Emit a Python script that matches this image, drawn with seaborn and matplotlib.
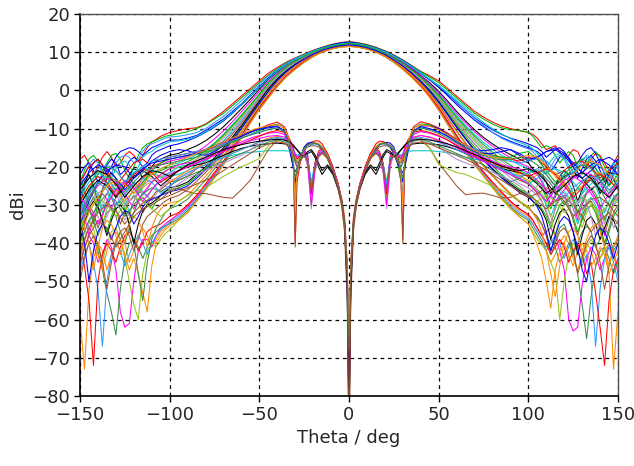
import numpy as np
import pandas as pd
import matplotlib
matplotlib.use("Agg")
import matplotlib.pyplot as plt
import seaborn as sns

# ---------------------------------------------------------------------------
# Sample angles (deg)
# co-polar traces: fine steps in the far side lobes, 5 deg steps elsewhere
theta_co = [
    -150, -147.5, -145, -142.5, -140, -137.5, -135, -132.5, -130, -127.5, -125,
    -122.5, -120, -117.5, -115, -112.5, -110, -107.5, -105, -102.5, -100,
    -95, -90, -85, -80, -75, -70, -65, -60, -55, -50, -45, -40, -35, -30, -25,
    -20, -15, -10, -5, 0, 5, 10, 15, 20, 25, 30, 35, 40, 45, 50, 55, 60, 65,
    70, 75, 80, 85, 90, 95,
    100, 102.5, 105, 107.5, 110, 112.5, 115, 117.5, 120, 122.5, 125, 127.5,
    130, 132.5, 135, 137.5, 140, 142.5, 145, 147.5, 150,
]
# cross-polar traces: fine steps around boresight null and side lobes
theta_x = [
    -150, -145, -140, -135, -130, -125, -120, -115, -110, -105, -100, -95, -90,
    -85, -80, -75, -70, -65, -60, -55, -50, -45,
    -40, -36, -33, -31, -30, -29, -27, -25, -23, -21, -19, -17, -15, -12, -9,
    -6, -4, -2.5, -1, 0, 1, 2.5, 4, 6, 9, 12, 15, 17, 19, 21, 23, 25, 27, 29,
    30, 31, 33, 36, 40,
    45, 50, 55, 60, 65, 70, 75, 80, 85, 90, 95, 100, 105, 110, 115, 120, 125,
    130, 135, 140, 145, 150,
]

# ---------------------------------------------------------------------------
# Co-polar gain (dBi)
co_01 = [-18, -17, -19, -22, -20, -17.5, -16, -17.5, -20, -19, -17, -16, -17, -18.5, -17, -15, -13.5, -12.8, -12, -11.5, -11,
         -10.5, -10, -9.8, -8.8, -7.2, -5.5, -3.5, -1.5, 0.5, 2.5, 4.5, 6, 7.4, 8.5, 9.5, 10.5, 11.3, 12, 12.5,
         12.8,
         12.5, 12, 11.3, 10.4, 9.3, 8, 6.5, 5, 3.8, 2.5, 0.5, -1.5, -3.5, -5.5, -7, -8.3, -9.3, -10, -10.5,
         -11, -11.5, -12.5, -14, -15.5, -15, -14.5, -16, -18, -17, -15.5, -16, -18.5, -20, -18, -16.5, -17, -19, -21, -19, -17]
co_02 = [-24, -21, -18, -17, -18.5, -21, -19, -17, -16.5, -18, -21, -23, -20, -17, -15, -14, -13.5, -13, -12.5, -12, -11.8,
         -11.3, -10.8, -10, -9, -7.5, -6, -4, -2, 0, 2, 4, 5.7, 7.2, 8.4, 9.4, 10.4, 11.2, 11.9, 12.4,
         12.7,
         12.4, 11.9, 11.2, 10.3, 9.2, 7.9, 6.4, 4.9, 3.5, 2, 0, -2, -4, -6, -7.5, -8.8, -9.8, -10.3, -10.5,
         -11, -12, -13.5, -15, -14.5, -15, -17, -19, -17.5, -16, -17, -20, -22, -19.5, -17, -16, -17.5, -20, -23, -21, -18]
co_03 = [-30, -25, -21, -19, -18, -19.5, -22, -20, -17.5, -16, -15.5, -15, -15.2, -16, -17, -16, -15, -14.5, -14, -13.5, -13,
         -13, -12.5, -11.8, -10.5, -9, -7.5, -5.5, -3.5, -1.2, 1, 3.2, 5, 6.8, 8.2, 9.3, 10.3, 11.2, 11.9, 12.4,
         12.6,
         12.3, 11.7, 11, 10, 8.9, 7.6, 6, 4.4, 2.7, 1, -1, -3.2, -5.2, -7.2, -8.8, -10.3, -11.5, -12.5, -13.2,
         -14, -14.5, -15, -16, -17.5, -16.5, -15.5, -15, -16, -18, -20, -19, -17, -15.5, -15, -16.5, -19, -22, -25, -22, -19]
co_04 = [-60, -73, -52, -44, -40, -42, -47, -43, -39, -37, -40, -45, -42, -38, -36, -38, -41, -39, -37, -36, -34.5,
         -32, -30, -27.5, -24.5, -21.5, -18.5, -15.5, -12, -8, -4.5, -1.5, 1.3, 3.8, 5.8, 7.5, 9, 10.1, 10.9, 11.4,
         11.6,
         11.4, 10.9, 10.1, 9, 7.5, 5.7, 3.6, 1.2, -1.5, -4.8, -8.5, -12, -15.5, -18.5, -21.5, -24.5, -27, -29.5, -31.5,
         -33, -35, -37, -39, -42, -45, -43, -40, -38, -40, -44, -47, -43, -40, -42, -46, -44, -41, -48, -73, -58]
co_05 = [-35, -30, -27, -25, -27, -31, -29, -26, -24, -25, -28, -32, -29, -26, -24, -22.5, -21.5, -21, -20.5, -20, -19.5,
         -19, -18, -16.8, -15.5, -13.8, -11.5, -9, -6.5, -3.8, -1, 1.8, 4, 6, 7.6, 8.9, 10, 10.9, 11.6, 12.1,
         12.3,
         12.1, 11.6, 10.8, 9.8, 8.6, 7.2, 5.5, 3.6, 1.5, -1, -3.8, -6.6, -9.2, -11.5, -13.6, -15.4, -17, -18.3, -19.5,
         -20.5, -21.5, -22, -23.5, -26, -28, -25.5, -23, -22.5, -24, -27, -30, -27, -24.5, -23.5, -25, -28, -32, -29, -26, -24]
co_06 = [-46, -41, -38, -40, -45, -43, -39, -41, -47, -58, -62, -61, -50, -42, -39, -39, -41, -38, -36, -35, -34,
         -32.5, -30.5, -28, -25, -22, -19, -15.5, -12, -8, -4.5, -1.5, 1.3, 3.9, 5.9, 7.6, 9.1, 10.2, 11, 11.5,
         11.7,
         11.5, 11, 10.2, 9.1, 7.6, 5.8, 3.7, 1.3, -1.4, -4.5, -8, -11.8, -15.2, -18.5, -21.5, -24, -26.5, -29, -31,
         -32.5, -34, -36, -38, -37, -36, -38, -42, -47, -60, -63, -62, -51, -44, -41, -43, -47, -44, -40, -42, -48]
co_07 = [-28, -24, -22, -25, -29, -26, -23, -21.5, -23, -27, -25, -22, -20.5, -21, -23, -22, -20, -18.5, -18, -17.5, -17,
         -16.5, -15.5, -14.5, -13.2, -11.5, -9.5, -7.2, -4.8, -2.3, 0.3, 2.8, 4.8, 6.6, 8, 9.2, 10.2, 11, 11.7, 12.2,
         12.4,
         12.2, 11.6, 10.9, 9.9, 8.7, 7.3, 5.7, 3.9, 2, -0.2, -2.8, -5.5, -8, -10.3, -12.3, -14, -15.5, -16.8, -18,
         -19, -20.5, -21.5, -22, -24, -27, -25, -22.5, -21, -22, -25, -29, -26, -23, -22, -24, -27, -25, -22, -23, -26]
co_08 = [-40, -34, -30, -32, -36, -33, -29, -28, -31, -35, -32, -29, -27.5, -29, -32, -30, -28, -26.5, -26, -25, -24,
         -23.5, -22.5, -20.5, -18.5, -16.5, -14, -11.5, -8.5, -5.5, -2.3, 0.8, 3.2, 5.3, 7, 8.5, 9.7, 10.7, 11.4, 11.9,
         12.1,
         11.9, 11.4, 10.6, 9.6, 8.3, 6.8, 5, 3, 0.8, -2, -5.2, -8.4, -11.3, -14, -16.5, -18.7, -20.5, -22, -23.5,
         -24.5, -25.5, -27, -29, -32, -35, -31, -28, -27.5, -30, -34, -38, -33, -30, -29, -31, -35, -40, -36, -32, -30]
co_09 = [-42, -37, -34, -36, -41, -45, -40, -37, -36, -39, -44, -50, -56, -60, -48, -42, -40, -41, -39, -37.5, -36.5,
         -34, -32, -29, -26, -23, -19.5, -16, -12.5, -8.5, -5, -2, 1, 3.5, 5.5, 7.3, 8.8, 10, 10.8, 11.3,
         11.5,
         11.3, 10.8, 10, 8.8, 7.3, 5.5, 3.4, 1, -1.8, -5.2, -9, -12.8, -16.3, -19.5, -22.5, -25.5, -28.5, -31, -33,
         -35, -37, -39, -40.5, -42, -45, -48, -60, -50, -43, -40, -42, -45, -41, -39, -41, -44, -42, -40, -43, -47]
co_10 = [-44, -39, -36, -38, -42, -47, -53, -58, -64, -52, -44, -40, -39, -41, -44, -41, -38, -37, -36, -35.5, -35,
         -33.5, -31.5, -28.5, -25.5, -22.5, -19.2, -15.8, -12.3, -8.4, -4.8, -1.8, 1.1, 3.6, 5.6, 7.4, 8.9, 10.1, 10.9, 11.4,
         11.6,
         11.4, 10.9, 10.1, 8.9, 7.4, 5.6, 3.5, 1.1, -1.7, -5, -8.8, -12.5, -16, -19.2, -22.2, -25.2, -28, -30.5, -32.5,
         -34, -36, -38, -40, -41, -39, -41, -45, -43, -40, -42, -48, -56, -65, -54, -46, -42, -41, -44, -48, -45]
co_11 = [-48, -43, -40, -45, -52, -67, -50, -43, -40, -42, -46, -43, -40, -38, -40, -43, -40, -38, -36.5, -35.5, -34.5,
         -33, -31, -28.5, -25.5, -22.5, -19, -15.5, -12, -8.2, -4.7, -1.7, 1.2, 3.7, 5.7, 7.5, 9, 10.1, 10.9, 11.4,
         11.6,
         11.4, 10.9, 10.1, 9, 7.5, 5.6, 3.5, 1.1, -1.6, -4.9, -8.6, -12.2, -15.8, -19, -22, -24.8, -27.5, -30, -32,
         -33.5, -35, -37, -39, -42, -40, -38, -40, -44, -41, -39, -42, -46, -43, -50, -67, -52, -44, -41, -45, -50]
co_12 = [-33, -29, -26, -28, -32, -30, -27, -25, -26.5, -30, -28, -25.5, -24, -25, -27.5, -26, -24, -23, -22.5, -22, -21.5,
         -21, -20, -18.5, -16.8, -14.8, -12.5, -10, -7.3, -4.5, -1.5, 1.5, 3.8, 5.8, 7.4, 8.8, 9.9, 10.9, 11.6, 12,
         12.2,
         12, 11.5, 10.8, 9.7, 8.5, 7, 5.2, 3.3, 1, -1.5, -4.4, -7.3, -10, -12.5, -14.8, -16.8, -18.6, -20.2, -21.5,
         -22.5, -23.5, -24, -25, -27.5, -30, -27, -25, -24.5, -26, -29, -33, -30, -27, -26, -28, -31, -35, -31, -28, -27]
co_13 = [-40, -46, -55, -72, -50, -43, -40, -42, -45, -41, -38, -37, -39, -42, -40, -37, -36, -35.5, -35, -34, -33,
         -32, -30, -27.5, -24.5, -21.5, -18.5, -15.2, -11.8, -8, -4.5, -1.5, 1.4, 3.9, 5.9, 7.6, 9.1, 10.2, 11, 11.5,
         11.7,
         11.5, 11, 10.2, 9.1, 7.6, 5.8, 3.7, 1.3, -1.4, -4.6, -8.2, -11.8, -15.3, -18.4, -21.3, -24, -26.6, -29, -31,
         -32.5, -34, -36, -38, -40, -43, -41, -39, -41, -45, -42, -40, -43, -48, -45, -53, -62, -72, -55, -47, -44]
co_14 = [-38, -33, -30, -28, -30, -34, -37, -33, -30, -29, -31, -35, -32, -29, -28, -29.5, -31, -29, -27.5, -26.5, -26,
         -25.5, -24.5, -22.5, -20.5, -18, -15.5, -12.5, -9.5, -6.3, -3, 0.3, 2.9, 5.1, 6.9, 8.4, 9.6, 10.6, 11.3, 11.8,
         12,
         11.8, 11.3, 10.5, 9.4, 8.1, 6.5, 4.6, 2.5, 0.2, -2.6, -5.8, -9, -12, -14.8, -17.4, -19.8, -22, -24, -25.8,
         -27, -28, -29.5, -31, -33, -36, -33, -30, -29, -30.5, -33, -37, -34, -31, -30, -32, -36, -41, -37, -33, -31]
co_15 = [-22, -20, -19, -21, -24, -22, -19.5, -18, -19, -22, -21, -18.5, -17.5, -18.5, -20, -19, -17, -16, -15.5, -15, -14.5,
         -14, -13.2, -12.2, -11, -9.6, -8, -6, -3.8, -1.5, 0.9, 3.2, 5.2, 6.9, 8.2, 9.3, 10.3, 11.1, 11.8, 12.3,
         12.5,
         12.3, 11.8, 11.1, 10.2, 9.1, 7.8, 6.3, 4.6, 2.8, 0.8, -1.4, -3.7, -5.8, -7.8, -9.5, -11, -12.3, -13.3, -14.2,
         -15, -15.5, -16, -17, -19, -21, -19.5, -17.5, -16.5, -17.5, -20, -23, -20.5, -18, -17, -18.5, -21, -24, -22, -19, -18]
co_16 = [-44, -39, -36, -38, -43, -47, -42, -38, -37, -39, -43, -47, -44, -48, -53, -58, -46, -40, -38, -36.5, -35.5,
         -34, -32, -29, -26, -22.8, -19.5, -16, -12.5, -8.5, -5, -2, 1, 3.6, 5.6, 7.4, 8.9, 10, 10.8, 11.3,
         11.5,
         11.3, 10.8, 10, 8.9, 7.4, 5.5, 3.4, 1, -1.8, -5.1, -8.8, -12.5, -16, -19.2, -22.3, -25.3, -28, -30.7, -33,
         -35, -37.5, -40.5, -44, -50, -57, -47, -42, -40, -43, -46, -42, -40, -42, -46, -44, -41, -43, -48, -45, -42]
co_17 = [-37, -33, -31, -34, -38, -35, -32, -31, -33, -37, -40, -36, -40, -48, -55, -45, -39, -36, -34, -32, -31,
         -30, -28.5, -26, -23.5, -20.5, -17.5, -14.5, -11, -7.5, -4, -0.8, 2, 4.5, 6.4, 8, 9.4, 10.4, 11.1, 11.6,
         11.8,
         11.6, 11.1, 10.3, 9.3, 7.9, 6.2, 4.2, 1.9, -0.7, -3.8, -7.2, -10.6, -13.8, -16.8, -19.6, -22.2, -24.6, -27, -29,
         -30.5, -32, -33.5, -35, -38, -42, -39, -36, -35, -38, -43, -40, -37, -35.5, -37, -41, -39, -36, -38, -42, -40]
co_18 = [-36, -31, -28, -26, -28, -32, -30, -27, -25.5, -27, -30, -28, -26, -25, -26.5, -28, -26, -24.5, -24, -23.2, -22.5,
         -22, -21, -19.5, -17.6, -15.6, -13.2, -10.6, -7.8, -4.9, -1.8, 1.2, 3.6, 5.6, 7.2, 8.7, 9.8, 10.8, 11.5, 12,
         12.2,
         12, 11.5, 10.7, 9.7, 8.4, 6.9, 5.1, 3.1, 0.9, -1.8, -4.8, -7.8, -10.6, -13.2, -15.6, -17.8, -19.8, -21.5, -23,
         -24, -25, -26, -27.5, -30, -33, -30, -27.5, -26.5, -28, -31, -35, -32, -29, -28, -30, -33, -37, -34, -30, -28]
co_19 = [-26, -22, -19.5, -18, -19, -22, -25, -22, -19, -17.5, -17, -17.5, -19, -18, -16, -14.5, -14, -13.5, -13, -12.5, -12.2,
         -12, -11.6, -11, -10, -8.4, -6.8, -4.8, -2.7, -0.5, 1.6, 3.7, 5.4, 7, 8.3, 9.3, 10.3, 11.1, 11.7, 12.1,
         12.3,
         12.1, 11.6, 10.9, 10, 8.9, 7.6, 6.1, 4.5, 2.9, 1.2, -0.8, -3, -5.2, -7.3, -9.2, -11, -12.5, -13.6, -14.5,
         -15.3, -16, -17.5, -19.5, -22, -20, -18, -17, -18, -20.5, -23, -21, -18.5, -17, -17.5, -20, -23.5, -27, -24, -20.5, -19]
co_20 = [-29, -33, -38, -33, -29, -27, -28.5, -31, -28, -25, -23.5, -24, -26, -25, -23, -21.5, -20.5, -20, -19.5, -19, -18.5,
         -18, -17.3, -16.2, -14.6, -12.7, -10.6, -8.2, -5.6, -3, -0.3, 2.3, 4.4, 6.3, 7.8, 9, 10.1, 10.9, 11.6, 12,
         12.2,
         12, 11.5, 10.8, 9.8, 8.6, 7.2, 5.6, 3.7, 1.7, -0.7, -3.3, -6, -8.5, -10.8, -12.8, -14.6, -16.2, -17.6, -19,
         -20, -21, -22, -24, -26.5, -30, -27.5, -25, -24, -25.5, -29, -34, -30, -27, -26, -28, -32, -38, -33, -29, -27]
co_21 = [-31, -27, -25, -26.5, -30, -35, -31, -27.5, -26, -27, -30, -33, -29, -27, -25.5, -24.5, -24, -23, -22, -21, -20.5,
         -20.2, -19.5, -18, -16.2, -14.3, -12, -9.5, -6.9, -4.1, -1.2, 1.7, 4, 6, 7.5, 8.8, 9.9, 10.8, 11.5, 11.9,
         12.1,
         11.9, 11.4, 10.6, 9.6, 8.3, 6.8, 5, 3, 0.7, -2, -4.9, -7.9, -10.6, -13.1, -15.4, -17.5, -19.3, -20.8, -22.2,
         -23.5, -25, -26, -27, -29, -33, -38, -33, -29.5, -28, -29, -32, -36, -32, -30, -31, -34, -37, -33, -30, -29]
co_22 = [-39, -35, -31, -29, -30.5, -34, -38, -34, -31, -30, -31.5, -35, -40, -35, -31.5, -30, -29.5, -28.5, -27.5, -26.5, -25.5,
         -25, -24, -22, -20, -17.6, -15, -12.2, -9.2, -6, -2.8, 0.4, 3, 5.2, 7, 8.5, 9.7, 10.7, 11.3, 11.8,
         12,
         11.8, 11.3, 10.5, 9.4, 8.1, 6.5, 4.6, 2.4, 0, -2.9, -6.2, -9.5, -12.6, -15.5, -18.1, -20.5, -22.6, -24.5, -26.2,
         -27.5, -29, -30, -31.5, -34, -39, -35, -32, -31, -33, -37, -43, -38, -34, -33, -35, -39, -36, -33, -34, -37]
co_23 = [-50, -44, -40, -38, -40, -45, -52, -45, -40, -37, -36, -38, -42, -39, -35, -33, -32, -31, -30, -29, -28.3,
         -27.5, -26, -23.8, -21.5, -19, -16.3, -13.3, -10.2, -6.9, -3.6, -0.4, 2.4, 4.7, 6.6, 8.2, 9.5, 10.5, 11.2, 11.7,
         11.9,
         11.7, 11.2, 10.4, 9.3, 7.9, 6.2, 4.2, 1.9, -0.7, -3.8, -7.2, -10.6, -13.9, -16.9, -19.7, -22.4, -24.9, -27.2, -29.2,
         -30.8, -32, -33, -35, -38, -43, -40, -37, -36, -38, -42, -48, -44, -40, -38, -40, -45, -52, -46, -41, -39]
co_24 = [-33, -36, -40, -47, -41, -36, -34, -35, -38, -43, -39, -35, -33, -34, -37, -41, -36, -33, -31, -30, -29.5,
         -29, -27.5, -25, -22.5, -19.8, -17, -14, -10.8, -7.4, -4, -0.7, 2.1, 4.5, 6.4, 8.1, 9.4, 10.4, 11.1, 11.6,
         11.8,
         11.6, 11.1, 10.3, 9.2, 7.8, 6, 4, 1.7, -1, -4, -7.4, -10.8, -14, -17, -19.8, -22.4, -24.8, -27, -29,
         -30.5, -32, -34, -37, -42, -48, -54, -46, -40, -37, -36, -38, -42, -39, -36, -35, -37, -41, -46, -41, -38]
co_25 = [-27, -32, -27, -23, -21, -22, -25, -23, -20.5, -19, -18.5, -19.5, -22, -20, -17.5, -16.5, -16, -15, -14.5, -14, -13.5,
         -13.2, -12.8, -12, -10.9, -9.4, -7.8, -5.8, -3.6, -1.4, 0.8, 3, 5, 6.7, 8.1, 9.2, 10.2, 11, 11.7, 12.2,
         12.4,
         12.2, 11.7, 11, 10.1, 9, 7.7, 6.2, 4.6, 3, 1.3, -0.6, -2.6, -4.6, -6.6, -8.4, -10, -11.4, -12.6, -13.6,
         -14.5, -15.3, -16.5, -18, -20, -18.5, -17, -16.5, -17.5, -19.5, -21.5, -20, -18, -17.5, -19, -22, -26, -23, -20.5, -19, -20.5]
co_26 = [-47, -40, -35, -32, -33, -36, -33, -30.5, -29.5, -31, -34, -32, -29, -27, -26.5, -27.5, -29, -27, -25.5, -24.5, -23.5,
         -23, -22, -20.2, -18.2, -16, -13.6, -11, -8.1, -5.1, -2, 1, 3.5, 5.5, 7.2, 8.6, 9.8, 10.7, 11.4, 11.9,
         12.1,
         11.9, 11.4, 10.6, 9.5, 8.2, 6.7, 4.9, 2.8, 0.5, -2.3, -5.4, -8.5, -11.4, -14, -16.5, -18.8, -20.9, -22.8, -24.4,
         -25.5, -26.5, -27.5, -29, -31.5, -35, -31, -28.5, -28, -30, -33, -30, -28, -29.5, -33, -38, -34, -31, -32, -36, -34]
co_27 = [-23, -26, -30, -35, -30, -26.5, -25, -26, -28, -26, -24, -23, -24.5, -27, -25, -23, -22, -21.5, -21, -20.5, -20,
         -19.5, -18.7, -17.4, -15.8, -13.9, -11.7, -9.2, -6.6, -3.8, -1, 1.9, 4.1, 6.1, 7.6, 8.9, 10, 10.9, 11.6, 12,
         12.2,
         12, 11.5, 10.7, 9.7, 8.5, 7, 5.3, 3.4, 1.2, -1.3, -4.1, -7, -9.6, -12, -14.2, -16.2, -18, -19.6, -21,
         -22, -23, -24, -25.5, -28, -31, -28, -25.5, -24.5, -25.5, -28, -32, -29, -26.5, -25.5, -27, -30, -34, -31, -28, -27]
co_28 = [-35, -40, -50, -42, -37, -35, -36, -39, -36, -33, -31.5, -32, -35, -33, -30.5, -29, -28.5, -28, -27.5, -27, -26.5,
         -26, -25, -23, -20.8, -18.4, -15.8, -12.9, -9.9, -6.6, -3.4, -0.2, 2.6, 4.9, 6.7, 8.2, 9.5, 10.5, 11.2, 11.7,
         11.9,
         11.7, 11.2, 10.4, 9.4, 8, 6.4, 4.5, 2.3, -0.2, -3.1, -6.4, -9.7, -12.8, -15.7, -18.3, -20.7, -22.9, -24.9, -26.7,
         -28, -29, -30.5, -33, -37, -42, -38, -34.5, -33, -34, -37, -41, -47, -50, -43, -38, -36, -37, -40, -44, -40]

# ---------------------------------------------------------------------------
# Cross-polar gain (dBi)
x_01 = [-24, -20, -18, -21, -25, -22, -19, -18, -20, -19, -17.5, -17, -16.5, -16, -15.5, -15, -14, -13, -12, -11, -10, -9,
        -8.3, -9.5, -13, -20, -40, -24, -18.5, -16, -14.3, -13.6, -13.2, -13.2, -14, -16.5, -20, -24.5, -28.5, -33, -45,
        -88,
        -45, -33, -28.5, -24.5, -20, -16.5, -14, -13.3, -13.4, -13.8, -14.6, -16.2, -18.6, -24, -39, -21, -13.5, -9.5, -8.2,
        -8.8, -9.8, -11.2, -12.8, -14.2, -15.5, -16.3, -17, -17.5, -18, -18.5, -17.5, -18, -20, -22, -21, -19, -18.5, -20, -23, -21, -19]
x_02 = [-30, -26, -22, -20, -21, -24, -27, -24, -21, -19, -18, -17.5, -17, -16.5, -16, -15.5, -14.5, -13.5, -12.5, -11.5, -10.5, -9.5,
        -8.8, -10, -13.5, -19, -26, -20.5, -17, -15, -14, -13.8, -13.8, -14, -14.8, -17, -20.5, -25, -29, -34, -46,
        -75,
        -46, -34, -29, -25, -20.5, -17, -14.8, -14, -13.8, -14, -15, -16.5, -19, -23.5, -27, -21, -14, -10, -8.8,
        -9, -10.2, -11.8, -13.2, -14.5, -15.8, -16.5, -17, -17.5, -17.5, -16.5, -16, -18, -21, -24, -22, -19.5, -18, -19, -22, -25, -22]
x_03 = [-35, -29, -24, -21, -19.5, -20, -23, -21, -18.5, -17, -16, -15.5, -15.8, -16.5, -17, -16, -14.5, -13, -12, -11, -10, -9.5,
        -9.3, -11, -16, -20.5, -21.2, -20.5, -18, -15.5, -14.2, -13.8, -13.8, -14.1, -15, -17.3, -20.8, -25.3, -29.3, -34.5, -47,
        -70,
        -47, -34.5, -29.3, -25.3, -20.8, -17.3, -15, -14.1, -13.8, -14, -14.8, -16.5, -19, -21, -21.5, -20, -16, -11, -9.3,
        -9.3, -10, -11.5, -13, -14.5, -15.5, -15.8, -15.5, -15, -15.5, -17, -18.5, -17.5, -16, -15.5, -17, -20, -23, -21, -18.5, -17.5, -19]
x_04 = [-26, -23, -21, -22.5, -26, -29, -26, -23, -21.5, -22.5, -24, -22.5, -21, -20, -19.5, -18.5, -17.5, -16.5, -15.5, -14.5, -13.5, -12.5,
        -12, -12.8, -14.5, -16.5, -18, -18.5, -17.5, -16.3, -18.5, -28, -21, -17.5, -16.5, -17.8, -21, -25.5, -30, -36, -49,
        -80,
        -49, -36, -30, -25.5, -21, -17.8, -16.5, -17.5, -21, -28, -18.5, -16.3, -17.5, -18.5, -18, -16.5, -14.5, -12.5, -11.8,
        -12.3, -13.3, -14.5, -15.5, -16.5, -17.5, -18.5, -19.5, -20, -20.5, -22, -24, -22, -20.5, -21.5, -24, -27, -25, -22.5, -21.5, -23.5, -26]
x_05 = [-28, -24, -21.5, -23, -26, -24, -21.5, -20, -21, -23, -21.5, -20, -19.5, -19, -18.5, -18, -17.5, -17, -16.5, -16.2, -16, -15.8,
        -15.8, -15.8, -15.9, -16.5, -17, -17.3, -17, -16.3, -18, -24, -19, -16.8, -16, -17, -20.3, -24.7, -29, -34.5, -48,
        -78,
        -48, -34.5, -29, -24.7, -20.3, -17, -16, -16.8, -19, -24, -18, -16.3, -17, -17.3, -17, -16.5, -16, -15.8, -15.8,
        -15.8, -16, -16.3, -16.8, -17.5, -18, -18.5, -19.5, -20.5, -21.5, -23, -24.5, -23, -21.5, -20.5, -21.5, -24, -27, -24.5, -22, -21.5, -23]
x_06 = [-33, -28, -25, -23, -24, -27, -31, -27, -24, -22, -20.5, -19.5, -19, -18.5, -17.5, -16.5, -15.5, -14.5, -13.5, -12.5, -11.8, -11.2,
        -11, -11.5, -13.5, -16, -18.5, -20, -18.5, -15.5, -17, -26, -19.5, -16.5, -15.5, -16.8, -20.2, -24.8, -29.3, -35, -48,
        -85,
        -48, -35, -29.3, -24.8, -20.2, -16.8, -15.5, -16.5, -19.5, -26, -17, -15.5, -18.5, -20, -18.5, -16, -13.5, -11.5, -10.8,
        -11.2, -12, -13, -14.2, -15.5, -16.5, -17.5, -18.5, -19.5, -20, -20.5, -21.5, -23.5, -26, -29, -26, -23, -21.5, -22, -24.5, -28, -25]
x_07 = [-30, -26, -23.5, -25, -28, -25, -22.5, -21, -22.5, -25, -23, -21, -20, -19.5, -19, -18, -17, -16, -15.2, -14.6, -14.2, -14,
        -13.8, -14, -14.2, -14.6, -15, -15.5, -16.5, -17.5, -16.5, -16, -17.5, -20, -22, -20, -22, -26, -30, -35.5, -50,
        -82,
        -50, -35.5, -30, -26, -22, -20, -22, -20, -17.5, -16, -16.5, -17.5, -16.5, -15.5, -15, -14.6, -14.2, -14, -13.8,
        -14, -14.2, -14.8, -15.5, -16.5, -17.5, -18.5, -19.5, -20.5, -21, -21.5, -22.5, -24.5, -27, -25, -22.5, -21.5, -23, -26, -24, -21.5, -22]
x_08 = [-45, -38, -34, -36, -41, -37, -33, -31, -30, -28.5, -26.5, -25.6, -26.5, -27, -27, -27.5, -28, -28.2, -26, -23.5, -19.5, -15.5,
        -13, -12.6, -13.8, -18, -41, -22, -17, -15.5, -14.8, -14.5, -14.5, -14.8, -15.8, -18, -21.5, -26, -30.5, -37, -55,
        -95,
        -55, -37, -30.5, -26, -21.5, -18, -15.8, -14.8, -14.5, -14.5, -14.8, -15.5, -17, -22, -40, -19, -13.8, -12.6, -13,
        -15.1, -19, -22, -25, -27.3, -27, -26.9, -27.5, -28.2, -28, -27, -27.5, -29, -31, -29, -28, -30, -33, -37, -34, -32, -35]
x_09 = [-36, -31, -28, -30, -33, -30, -28, -29, -31, -33, -31, -29, -27.5, -26.3, -25.5, -24, -22.5, -21.2, -20, -19, -17.8, -14.5,
        -12.5, -12.8, -14.2, -16.5, -18, -18.5, -17.5, -16.5, -19, -29, -20.5, -17.3, -16.5, -17.8, -21, -25.5, -30, -36, -50,
        -78,
        -50, -36, -30, -25.5, -21, -17.8, -16.5, -17.3, -20.5, -29, -19, -16.5, -17.5, -18.5, -18, -16.5, -14, -12.8, -12.5,
        -15, -19.4, -20.5, -21.5, -22, -23, -24, -25.1, -26, -27.5, -29, -31, -29, -27.5, -29, -32, -30, -28, -29.5, -32, -30, -28]
x_10 = [-40, -34, -30, -27, -29, -33, -30, -27, -25.5, -26.5, -25, -23.5, -22.5, -21.5, -20.5, -19.5, -18.5, -17.5, -16.5, -15.5, -14.5, -13.5,
        -13, -13.5, -15, -17, -19, -20, -18.5, -16.8, -18.5, -27, -20, -17, -16.2, -17.5, -20.8, -25.2, -29.5, -35, -47,
        -72,
        -47, -35, -29.5, -25.2, -20.8, -17.5, -16.2, -17, -20, -27, -18.5, -16.8, -18.5, -20, -19, -17, -15, -13.3, -12.8,
        -13.5, -14.5, -15.5, -16.5, -17.5, -18.5, -19.5, -21, -22.5, -24, -23, -21.5, -21, -23, -26, -30, -27, -24, -23.5, -26, -30, -27]
x_11 = [-27, -23, -20.5, -19.5, -21, -24, -22, -20, -18.5, -18, -17.5, -17, -16.5, -16, -15.5, -14.8, -14, -13.2, -12.4, -11.6, -10.8, -10.2,
        -9.8, -10.8, -13.8, -19, -29, -21, -17.3, -15.5, -14.6, -14.2, -14, -14.3, -15.2, -17.5, -21, -25.5, -29.5, -35, -52,
        -90,
        -52, -35, -29.5, -25.5, -21, -17.5, -15.2, -14.3, -14, -14.2, -14.6, -15.5, -17.3, -21, -29, -19, -13.8, -10.8, -9.8,
        -10.2, -11, -12, -13.2, -14.3, -15.4, -16.3, -17.2, -18, -18.6, -19, -18.5, -17.8, -18.5, -20.5, -23, -21.5, -19.5, -18.5, -20, -23, -21]
x_12 = [-34, -30, -27, -25, -26.5, -30, -28, -25, -23, -24, -26, -24.5, -23, -22, -21, -20, -19, -18, -17, -15.5, -14, -13,
        -12.5, -13, -14.5, -16, -16.8, -17, -16.8, -16.8, -20, -31, -21.5, -17.5, -16.3, -17.5, -20.8, -25.3, -29.7, -35.5, -49,
        -80,
        -49, -35.5, -29.7, -25.3, -20.8, -17.5, -16.3, -17.5, -21.5, -31, -20, -16.8, -16.8, -17, -16.8, -16, -14.5, -13, -12.5,
        -14, -15, -16.5, -18, -19, -19.8, -20.5, -21.5, -22.5, -23.5, -25, -27, -25, -23.5, -24.5, -27, -30, -28, -25.5, -24.5, -26, -29]
x_13 = [-29, -25, -22.5, -24, -27.5, -25, -22, -20.5, -21.5, -24, -22.5, -21, -20, -19, -18, -17, -16, -15, -14, -13, -12, -11,
        -10.5, -11, -12.8, -15, -17, -18, -17, -15.5, -17.5, -27, -19, -16, -15, -16.5, -20, -24.5, -29, -34.5, -48,
        -76,
        -48, -34.5, -29, -24.5, -20, -16.5, -15, -16, -19, -27, -17.5, -15.5, -17, -18, -17, -15, -12.8, -11, -10.5,
        -11, -11.8, -13, -14.5, -16, -17.2, -18.2, -19, -19.8, -20.5, -21.5, -22.5, -21.5, -20.5, -22, -25, -28, -25.5, -23, -22, -23.5, -26]
x_14 = [-25, -21.5, -19.5, -20.5, -23, -26, -23, -20.5, -19, -18.5, -18, -17.5, -17, -16.5, -15.5, -14.5, -13.5, -12.5, -11.5, -10.8, -10.2, -9.8,
        -9.5, -10.5, -14, -20, -24, -21, -17.5, -14.8, -13.8, -13.6, -13.8, -14.2, -15.2, -17.3, -20.8, -25.2, -29.2, -34.5, -47,
        -80,
        -47, -34.5, -29.2, -25.2, -20.8, -17.3, -15.2, -14.2, -13.8, -13.6, -13.8, -14.8, -17.5, -21, -24, -20, -14, -10.5, -9.5,
        -10, -10.8, -12, -13.5, -15, -16, -16.5, -16.5, -16, -15.5, -16.5, -18, -17.5, -16, -15, -16.5, -19, -21.5, -19.5, -18, -19.5, -22]
x_15 = [-32, -27, -24, -26, -30, -27, -24.5, -23, -24, -27, -25, -23, -21.5, -20.5, -19.5, -18.5, -17.5, -16.5, -15.5, -14.5, -13.5, -12.8,
        -12.3, -12.6, -13.8, -15.5, -16.5, -17, -16.5, -15.8, -17.8, -25, -19.5, -16.8, -16, -17.2, -20.5, -25, -29.5, -35, -48,
        -60,
        -48, -35, -29.5, -25, -20.5, -17.2, -16, -16.8, -19.5, -25, -17.8, -15.8, -16.5, -17, -16.5, -15.5, -13.8, -12.6, -12.3,
        -12.8, -13.6, -14.5, -15.5, -16.5, -17.5, -18.5, -19.5, -20.5, -21.5, -22.5, -21.5, -20.5, -22, -25, -28, -25.5, -23.5, -22.5, -23.5, -26, -24]
x_16 = [-38, -32, -28, -25, -23.5, -24.5, -27, -24.5, -22, -20.5, -19.5, -18.5, -17.5, -16.5, -15.5, -14.5, -13.5, -12.5, -11.5, -10.5, -9.8, -9.3,
        -9, -10, -13.2, -18.5, -30, -21, -17.5, -15.3, -14.3, -13.9, -13.7, -13.9, -14.8, -17, -20.5, -25, -29, -34, -46,
        -65,
        -46, -34, -29, -25, -20.5, -17, -14.8, -13.9, -13.7, -13.9, -14.3, -15.3, -17.5, -21, -30, -18.5, -13.2, -10, -9,
        -9.4, -10.3, -11.6, -13, -14.4, -15.7, -16.7, -17.4, -17.8, -18, -17.5, -17, -17.5, -19.5, -22.5, -25, -22, -19.5, -18.5, -19.5, -22, -24]
x_17 = [-28, -31, -35, -30, -26, -24, -25.5, -29, -26, -23.5, -22, -21, -20, -19, -18, -17, -16, -15, -14, -13.2, -12.6, -12,
        -11.8, -12.2, -13.6, -15.5, -17, -17.5, -17, -16, -19, -30, -20.5, -17, -16.2, -17.5, -20.5, -25, -29.5, -35, -50,
        -85,
        -50, -35, -29.5, -25, -20.5, -17.5, -16.2, -17, -20.5, -30, -19, -16, -17, -17.5, -17, -15.5, -13.6, -12.2, -11.8,
        -12.2, -13, -14, -15, -16.2, -17.4, -18.6, -19.8, -21, -22, -23, -24.5, -26.5, -29, -26, -23.5, -22.5, -24, -27, -31, -27, -24.5]
x_18 = [-26, -23, -21, -22, -24.5, -28, -25, -22.5, -21, -21.5, -22.5, -21, -19.5, -18.5, -17.5, -16.5, -15.5, -14.8, -14.2, -13.7, -13.3, -13,
        -12.8, -13, -13.5, -14.3, -15, -15.6, -16.8, -17.2, -16, -15.5, -16.8, -19, -21, -19.5, -21.5, -25.5, -29.5, -35, -52,
        -88,
        -52, -35, -29.5, -25.5, -21.5, -19.5, -21, -19, -16.8, -15.5, -16, -17.2, -16.8, -15.6, -15, -14.3, -13.5, -13, -12.8,
        -13, -13.4, -14, -14.8, -15.8, -16.8, -17.8, -18.8, -19.8, -20.5, -21, -20.5, -21.5, -24, -27, -25, -22.5, -21.5, -23, -26, -28, -25]
x_19 = [-33, -28, -24.5, -22.5, -23.5, -26.5, -24, -21.5, -20, -19.5, -19, -18.5, -18, -17.5, -16.5, -15.5, -14.5, -13.5, -12.5, -11.7, -11, -10.3,
        -9.8, -10.8, -14, -19.5, -23, -20.5, -17.3, -15.3, -14.4, -14, -13.9, -14.2, -15.1, -17.4, -20.9, -25.4, -29.4, -34.8, -48,
        -68,
        -48, -34.8, -29.4, -25.4, -20.9, -17.4, -15.1, -14.2, -13.9, -14, -14.4, -15.3, -17.3, -20.5, -23, -19.5, -14, -10.8, -9.8,
        -10.4, -11.3, -12.5, -13.8, -15, -16.2, -17, -17.8, -18.2, -18, -17.5, -18, -19.5, -22, -25, -23, -20.5, -19.5, -20.5, -23.5, -27, -23]
x_20 = [-42, -36, -32, -30, -31.5, -35, -32, -29.5, -28, -28.5, -27.5, -26.5, -25.5, -24.5, -23.5, -22.5, -21, -19.5, -18, -16.5, -15, -14,
        -13.5, -13.8, -15, -16.8, -18, -19, -18.2, -16.8, -18.6, -26, -20, -17.2, -16.4, -17.6, -20.8, -25.3, -29.7, -35.5, -49,
        -95,
        -49, -35.5, -29.7, -25.3, -20.8, -17.6, -16.4, -17.2, -20, -26, -18.6, -16.8, -18.2, -19, -18, -16.8, -15, -13.8, -13.5,
        -14, -15, -16, -17, -18, -19.2, -20.5, -22, -23.5, -25, -26.5, -28, -27, -25.5, -26.5, -29, -33, -31, -28.5, -28, -30, -33]

co_traces = [co_01, co_02, co_03, co_04, co_05, co_06, co_07, co_08, co_09,
             co_10, co_11, co_12, co_13, co_14, co_15, co_16, co_17, co_18,
             co_19, co_20, co_21, co_22, co_23, co_24, co_25, co_26, co_27,
             co_28]
x_traces = [x_01, x_02, x_03, x_04, x_05, x_06, x_07, x_08, x_09, x_10,
            x_11, x_12, x_13, x_14, x_15, x_16, x_17, x_18, x_19, x_20]

# trace colours
RED, GREEN, BLUE, ORANGE = "#ff0000", "#00b400", "#0000ff", "#ff8c00"
CYAN, MAGENTA, BLACK, BROWN = "#00c8c8", "#ff00ff", "#000000", "#a0522d"
OLIVE, DKGREEN, LTBLUE, LILAC = "#9ac31c", "#3c8c50", "#3399ff", "#b48cc8"
co_colors = [RED, GREEN, BLUE, ORANGE, CYAN, MAGENTA, BLACK, BROWN, OLIVE,
             DKGREEN, LTBLUE, LILAC, RED, GREEN, BLUE, ORANGE, DKGREEN, CYAN,
             LTBLUE, MAGENTA, OLIVE, BLACK, BROWN, ORANGE, CYAN, LILAC, GREEN,
             BLUE]
x_colors = [RED, GREEN, BLUE, ORANGE, CYAN, MAGENTA, BLACK, BROWN, OLIVE,
            DKGREEN, LTBLUE, LILAC, RED, BLUE, LTBLUE, ORANGE, MAGENTA, BLACK,
            DKGREEN, BROWN]

# ---------------------------------------------------------------------------
# long-form table, one trace id per curve
rows = []
names, colors = [], []
for i, (vals, c) in enumerate(zip(co_traces, co_colors)):
    name = f"co{i:02d}"
    names.append(name)
    colors.append(c)
    rows.append(pd.DataFrame({"theta": theta_co, "gain": vals, "trace": name}))
for i, (vals, c) in enumerate(zip(x_traces, x_colors)):
    name = f"x{i:02d}"
    names.append(name)
    colors.append(c)
    rows.append(pd.DataFrame({"theta": theta_x, "gain": vals, "trace": name}))
df = pd.concat(rows, ignore_index=True)

sns.set_theme(style="white")
plt.rcParams["font.family"] = ["DejaVu Sans"]

fig = plt.figure(figsize=(6.34, 4.66), dpi=100)
ax = fig.add_axes([80 / 634, 1 - 396 / 466, (618 - 80) / 634, (396 - 14) / 466])

sns.lineplot(data=df, x="theta", y="gain", hue="trace", hue_order=names,
             palette=colors, estimator=None, sort=False, legend=False,
             linewidth=0.75, ax=ax)

ax.set_xlim(-150, 150)
ax.set_ylim(-80, 20)
ax.set_xticks([-150, -100, -50, 0, 50, 100, 150])
ax.set_yticks(list(range(-80, 21, 10)))
ax.grid(True, color="black", linestyle=(0, (3, 3)), linewidth=0.9)
ax.set_axisbelow(True)

for side in ("left", "bottom"):
    ax.spines[side].set_color("black")
    ax.spines[side].set_linewidth(1.2)
for side in ("top", "right"):
    ax.spines[side].set_color("#505050")
    ax.spines[side].set_linewidth(1.0)

ax.tick_params(axis="both", which="major", direction="out", length=4,
               width=1, color="black", labelsize=13, pad=3,
               left=True, bottom=True)
ax.set_xlabel("Theta / deg", fontsize=13, labelpad=4)
ax.set_ylabel("dBi", fontsize=13, labelpad=4)

fig.savefig("out.png", dpi=100)
